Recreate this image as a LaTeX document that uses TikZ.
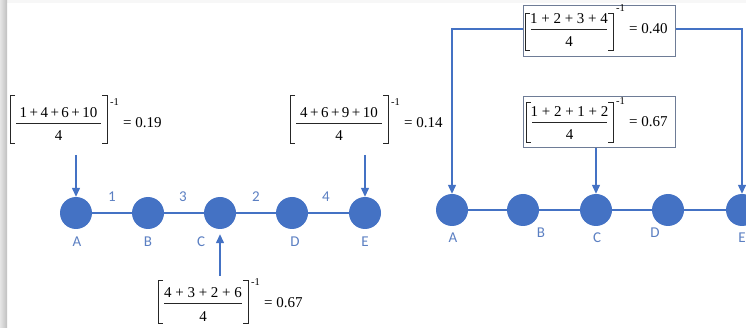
\documentclass[tikz,border=0pt]{standalone}
\usepackage{fontspec}
\setmainfont{Liberation Serif}
\newfontfamily\labfont{Carlito}
\usetikzlibrary{arrows.meta}
\definecolor{nodeblue}{HTML}{4472C4}
\definecolor{labblue}{HTML}{5B7FC2}
\definecolor{boxgray}{HTML}{6E7C96}
% #1 name, #2 left, #3 right, #4 top, #5 bottom, #6 fraction-rule y, #7 numerator, #8 denominator, #9 value
\newcommand\formula[9]{%
  \node[ftext, anchor=base] (#1n) at ({(#2+#3)/2},{#6-5}) {#7};
  \node[ftext, anchor=base] (#1d) at ({(#2+#3)/2},{#6+18}) {#8};
  \node[expo, anchor=west] (#1e) at ({#3+3},{#6-21}) {-1};
  \node[ftext, anchor=west] (#1v) at ({#3+16},{#6}) {= #9};
  \draw[brk] ({#2+6},#6) -- ({#3-6},#6);
  \draw[brk] ({#2+5},#4) -- (#2,#4) -- (#2,#5) -- ({#2+5},#5);
  \draw[brk] ({#3-5},#4) -- (#3,#4) -- (#3,#5) -- ({#3-5},#5);
}
\begin{document}
\begin{tikzpicture}[x=1pt,y=-1pt,
  vert/.style={circle, fill=nodeblue, minimum size=32pt, inner sep=0pt},
  edgeline/.style={draw=nodeblue, line width=1.3pt},
  arr/.style={draw=nodeblue, line width=1.3pt, -{Triangle[length=9pt,width=8pt]}},
  lab/.style={text=labblue, font=\labfont\fontsize{15}{18}\selectfont, inner sep=0pt},
  ftext/.style={font=\fontsize{15}{18}\selectfont, inner sep=0pt},
  expo/.style={font=\fontsize{10.5}{10.5}\selectfont, inner sep=0pt},
  brk/.style={draw=black!85, line width=0.9pt},
  fbox/.style={draw=boxgray, line width=1pt, minimum width=152pt, minimum height=51pt, inner sep=0pt}
]
\useasboundingbox (0,0) rectangle (746,328);
\fill[gray!6] (0,0) rectangle (746,3);
\shade[left color=gray!20, right color=gray!50] (0,0) rectangle (7,328);

% left graph
\node[vert] (LA) at (76,213) {};
\node[vert] (LB) at (148,213) {};
\node[vert] (LC) at (220,213) {};
\node[vert] (LD) at (292,213) {};
\node[vert] (LE) at (365,213) {};
\draw[edgeline] (LA) -- (LB) -- (LC) -- (LD) -- (LE);
\node[lab] (lAl) at (77,242) {A};
\node[lab] (lBl) at (148,242) {B};
\node[lab] (lCl) at (201,242) {C};
\node[lab] (lDl) at (295,242) {D};
\node[lab] (lEl) at (365,242) {E};
\node[lab] (w1) at (112,197) {1};
\node[lab] (w2) at (183,197) {3};
\node[lab] (w3) at (256,197) {2};
\node[lab] (w4) at (326,197) {4};

\formula{F1}{10}{107}{95}{143}{123}{1\,+\,4\,+\,6\,+\,10}{4}{0.19}
\formula{F2}{290}{388}{95}{143}{123}{4\,+\,6\,+\,9\,+\,10}{4}{0.14}
\formula{F3}{158}{248}{280}{323}{303}{4 + 3 + 2 + 6}{4}{0.67}

\coordinate (ta) at (76,155);
\coordinate (te) at (365,155);
\coordinate (tc) at (220,276);
\draw[arr] (ta) -- (LA);
\draw[arr] (te) -- (LE);
\draw[arr, shorten >=5pt] (tc) -- (LC);

% right graph
\node[vert] (RA) at (452,210) {};
\node[vert] (RB) at (523,210) {};
\node[vert] (RC) at (596,210) {};
\node[vert] (RD) at (668,210) {};
\node[vert] (RE) at (742,210) {};
\draw[edgeline] (RA) -- (RB) -- (RC) -- (RD) -- (RE);
\node[lab] (rAl) at (453,238) {A};
\node[lab] (rBl) at (541,233) {B};
\node[lab] (rCl) at (597,238) {C};
\node[lab] (rDl) at (655,233) {D};
\node[lab] (rEl) at (742,238) {E};

\node[fbox] (B4) at (599,31.5) {};
\node[fbox] (B5) at (599,122) {};
\formula{F4}{525}{613}{13}{50}{29}{1 + 2 + 3 + 4}{4}{0.40}
\formula{F5}{526}{613}{102}{142}{122}{1 + 2 + 1 + 2}{4}{0.67}

\draw[arr] ([yshift=2.5pt]B4.west) -| (RA);
\draw[arr] ([yshift=2.5pt]B4.east) -| (RE);
\draw[arr] (B5.south -| RC) -- (RC);
\end{tikzpicture}
\end{document}
